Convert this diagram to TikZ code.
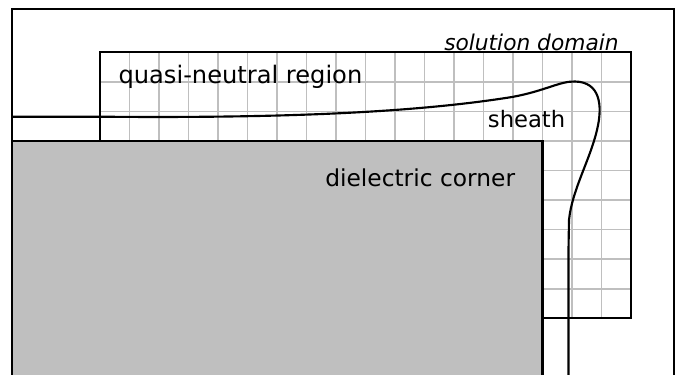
\documentclass[tikz,border=0pt]{standalone}
\usepackage{fontspec}
\setmainfont{DejaVu Sans}
\begin{document}
\begin{tikzpicture}[x=0.75pt,y=-0.75pt,
  frame/.style={draw=black,line width=1.7pt},
  gridline/.style={draw=black!25,line width=1.2pt},
  solid/.style={draw=black,line width=1.6pt},
  dielectric/.style={fill=black!25,draw=black,line width=1.6pt},
  sheathline/.style={draw=black,line width=1.6pt,line join=round},
  lbl/.style={inner sep=0pt,anchor=base west}]
\useasboundingbox (0,0) rectangle (676,375);
\clip (0,0) rectangle (676,375);
% outer frame (solution domain)
\draw[frame] (11.7,400) -- (11.7,9) -- (674,9) -- (674,400);
% grid region
\fill[white] (100,52.3) rectangle (631,318.3);
\foreach \i in {1,...,17} {\draw[gridline] ({100+\i*29.5},52.3) -- ({100+\i*29.5},318.3);}
\foreach \j in {1,...,8} {\draw[gridline] (100,{52.3+\j*29.556}) -- (631,{52.3+\j*29.556});}
\draw[solid] (100,52.3) rectangle (631,318.3);
% dielectric corner
\draw[dielectric] (11.7,400) -- (11.7,140.7) -- (542.5,140.7) -- (542.5,400);
% sheath edge
\coordinate (s0) at (11.7,116.7);
\coordinate (s1) at (100,116.7);
\coordinate (s2) at (512,97);
\coordinate (s3) at (575,81.5);
\coordinate (s4) at (597,130);
\coordinate (s5) at (569,220);
\coordinate (s6) at (568.5,250);
\coordinate (s7) at (568.5,400);
\draw[sheathline] (s0) -- (s1)
  .. controls (250,118) and (400,115) .. (s2)
  .. controls (545,91) and (560,81) .. (s3)
  .. controls (600,82) and (603,105) .. (s4)
  .. controls (590,160) and (572,190) .. (s5)
  .. controls (568,235) .. (s6) -- (s7);
% labels
\node[lbl] (sol) at (444,50.5) {\fontsize{16.3}{18}\selectfont\itshape solution domain};
\node[lbl] (qn) at (118.3,83.3) {\fontsize{18.1}{20}\selectfont quasi-neutral region};
\node[lbl] (sh) at (487.7,127.3) {\fontsize{17}{19}\selectfont sheath};
\node[lbl] (dc) at (325,186) {\fontsize{17.5}{19}\selectfont dielectric corner};
\end{tikzpicture}
\end{document}
